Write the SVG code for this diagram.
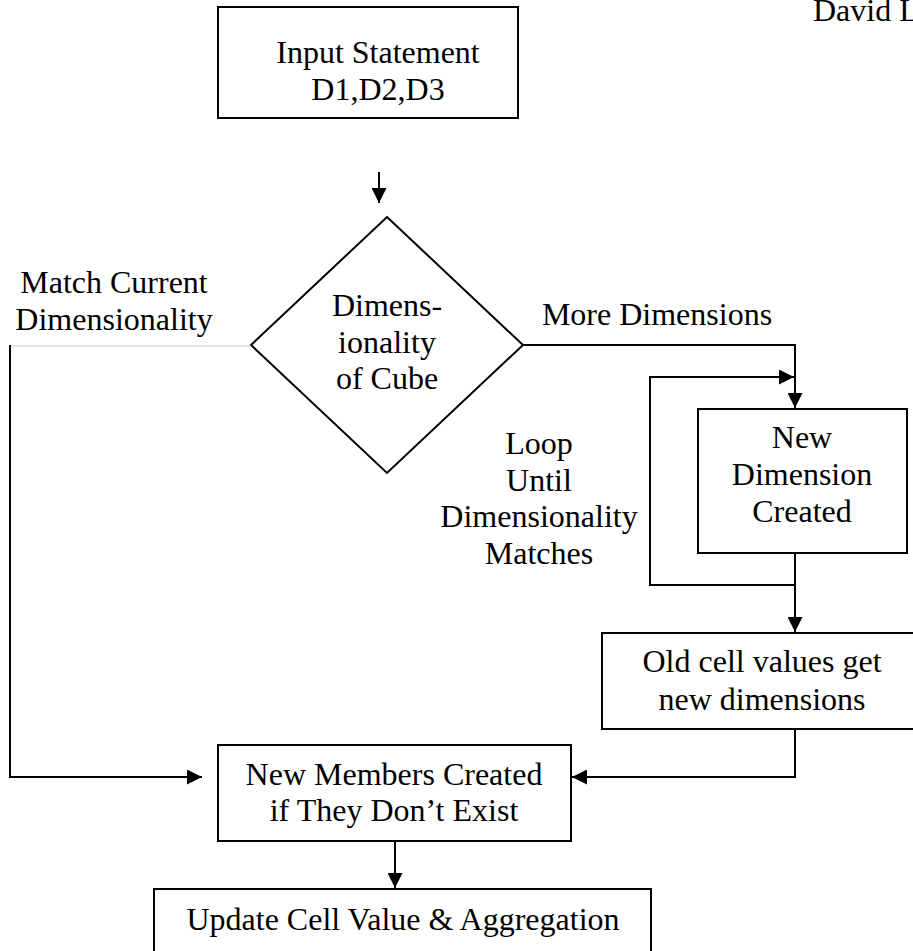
<svg xmlns="http://www.w3.org/2000/svg" width="913" height="951" viewBox="0 0 913 951">
  <style>
    .box { fill: #ffffff; stroke: #000000; stroke-width: 2; }
    .lbl { font-family: "Liberation Serif", "Times New Roman", serif; font-size: 32px; fill: #000000; text-anchor: middle; }
    .wire { fill: none; stroke: #000000; stroke-width: 2; }
    .wire-light { fill: none; stroke: #c8c8c8; stroke-width: 1.2; }
  </style>
  <defs>
    <marker id="arrow" viewBox="0 0 15 15" refX="15" refY="7.5" markerWidth="15" markerHeight="15" orient="auto" markerUnits="userSpaceOnUse">
      <path d="M0,0 L15,7.5 L0,15 z" fill="#000000"/>
    </marker>
  </defs>

  <rect width="913" height="951" fill="#ffffff"/>

  <!-- author header -->
  <text class="lbl" x="813" y="21" style="text-anchor:start">David L</text>

  <g id="input-statement">
    <rect class="box" x="218" y="7" width="300" height="111"/>
    <text class="lbl" x="378" y="63">Input Statement</text>
    <text class="lbl" x="378" y="100">D1,D2,D3</text>
  </g>

  <g id="dimensionality-decision">
    <polygon class="box" points="387,217 523,345 387,473 251,345"/>
    <text class="lbl" x="387" y="316">Dimens-</text>
    <text class="lbl" x="387" y="353">ionality</text>
    <text class="lbl" x="387" y="389">of Cube</text>
  </g>

  <g id="new-dimension">
    <rect class="box" x="698" y="409" width="209" height="144"/>
    <text class="lbl" x="802" y="448">New</text>
    <text class="lbl" x="802" y="485">Dimension</text>
    <text class="lbl" x="802" y="522">Created</text>
  </g>

  <g id="old-cell-values">
    <rect class="box" x="602" y="633" width="320" height="96"/>
    <text class="lbl" x="762" y="672">Old cell values get</text>
    <text class="lbl" x="762" y="710">new dimensions</text>
  </g>

  <g id="new-members">
    <rect class="box" x="218" y="745" width="353" height="96"/>
    <text class="lbl" x="394" y="785">New Members Created</text>
    <text class="lbl" x="394" y="821">if They Don’t Exist</text>
  </g>

  <g id="update-cell">
    <rect class="box" x="154" y="889" width="497" height="80"/>
    <text class="lbl" x="403" y="930">Update Cell Value &amp; Aggregation</text>
  </g>

  <g id="connectors">
    <line class="wire" x1="379" y1="172" x2="379" y2="203" marker-end="url(#arrow)"/>
    <line class="wire-light" x1="251" y1="346" x2="10" y2="346"/>
    <polyline class="wire" points="10,345 10,777 202,777" marker-end="url(#arrow)"/>
    <polyline class="wire" points="523,345 795,345 795,408" marker-end="url(#arrow)"/>
    <line class="wire" x1="795" y1="553" x2="795" y2="632" marker-end="url(#arrow)"/>
    <polyline class="wire" points="795,585 650,585 650,377 794,377" marker-end="url(#arrow)"/>
    <polyline class="wire" points="795,729 795,777 572,777" marker-end="url(#arrow)"/>
    <line class="wire" x1="395" y1="841" x2="395" y2="888" marker-end="url(#arrow)"/>
  </g>

  <!-- edge labels -->
  <g id="edge-labels">
    <text class="lbl" x="114" y="293">Match Current</text>
    <text class="lbl" x="114" y="330">Dimensionality</text>
    <text class="lbl" x="657" y="325">More Dimensions</text>
    <text class="lbl" x="539" y="454">Loop</text>
    <text class="lbl" x="539" y="491">Until</text>
    <text class="lbl" x="539" y="527">Dimensionality</text>
    <text class="lbl" x="539" y="564">Matches</text>
  </g>
</svg>
